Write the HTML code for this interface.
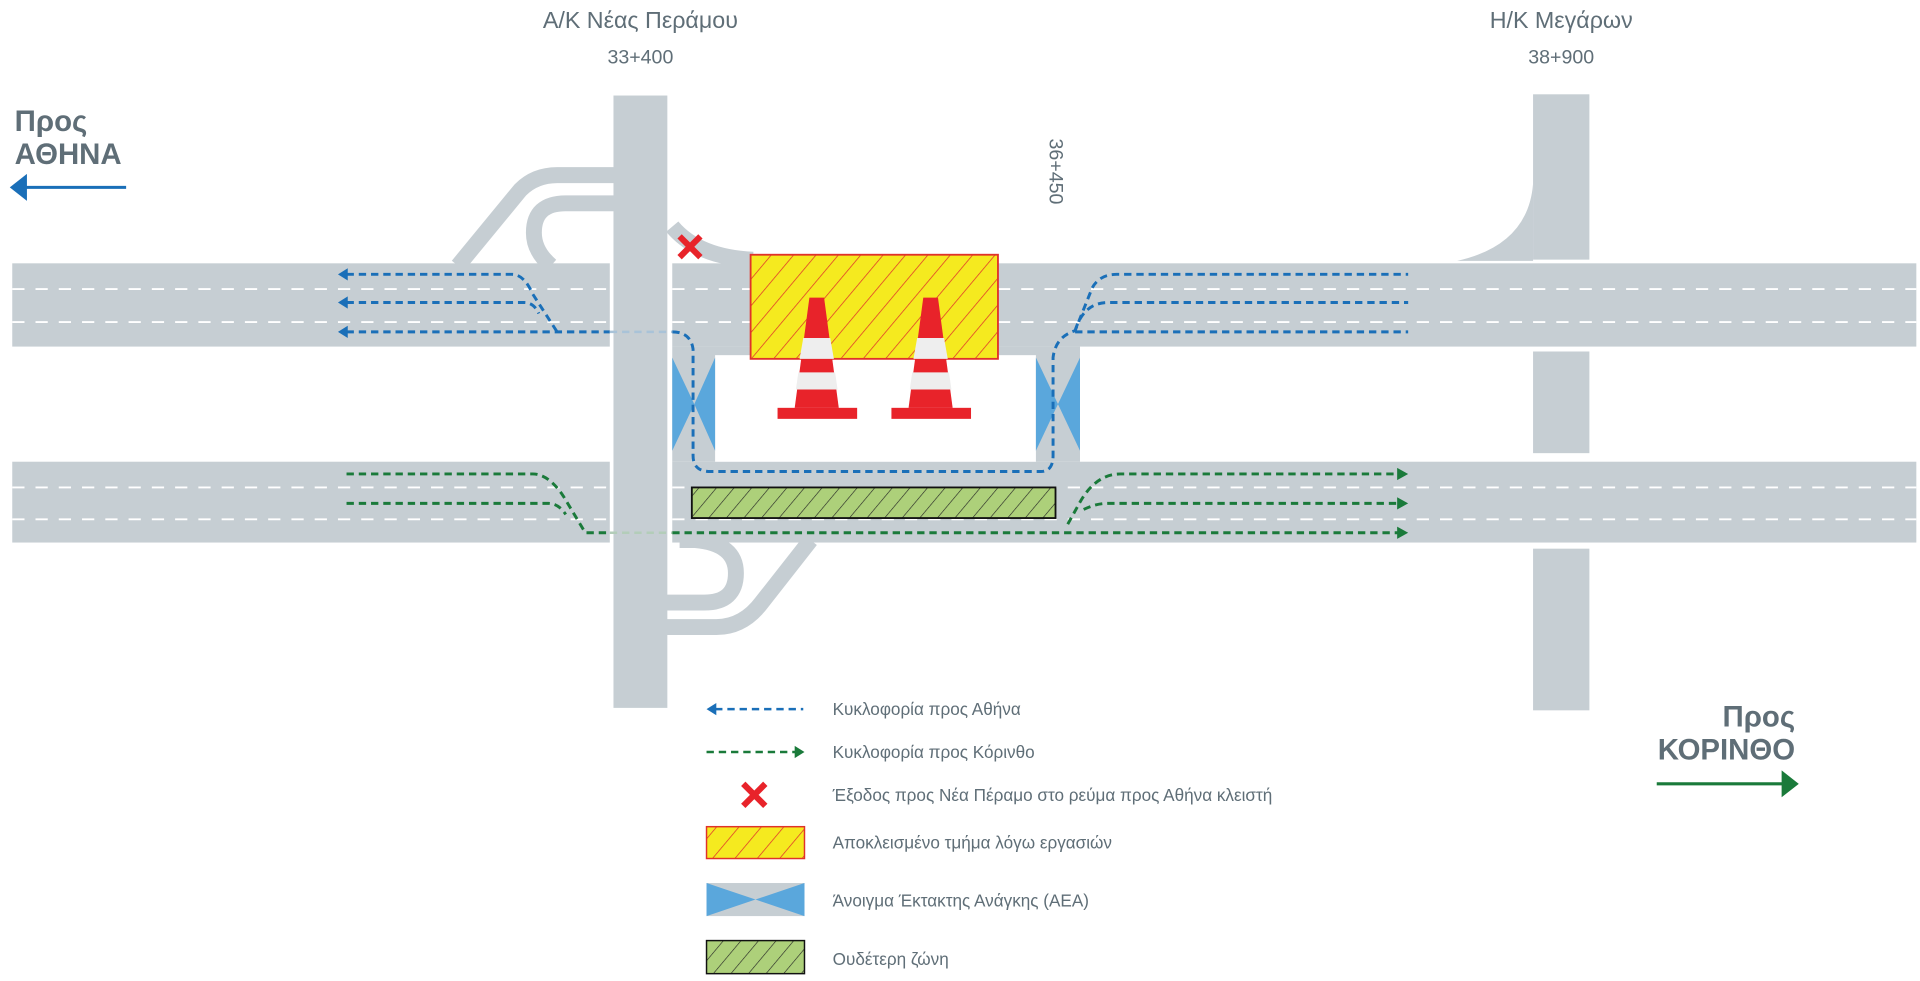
<!DOCTYPE html>
<html><head><meta charset="utf-8"><style>
html,body{margin:0;padding:0;background:#fff;width:1920px;height:981px;overflow:hidden}
svg{display:block}
text{font-family:"Liberation Sans","DejaVu Sans",sans-serif;fill:#5f6e77}
</style></head><body>
<svg width="1920" height="981" viewBox="0 0 1568 801" preserveAspectRatio="none">
<defs>
<pattern id="hy" patternUnits="userSpaceOnUse" width="14" height="14" patternTransform="rotate(40)"><rect width="14" height="14" fill="#f5ea1f"/><line x1="0" y1="0" x2="0" y2="14" stroke="#e0322a" stroke-width="1.2"/></pattern>
<pattern id="hg" patternUnits="userSpaceOnUse" width="11" height="11" patternTransform="rotate(40)"><rect width="11" height="11" fill="#add07a"/><line x1="0" y1="0" x2="0" y2="11" stroke="#222" stroke-width="1"/></pattern>
</defs>
<g fill="none" stroke="#c6ced3" stroke-width="13">
<path d="M374,217 L425,155 Q437,143 455,143 L505,143"/>
<path d="M505,166 L462,166 Q436,166 436,190 Q436,205 450,217"/>
<path d="M555,441 L568,441 Q601,444 601,468 Q601,492 575,492 L543,492"/>
<path d="M543,512 L585,512 Q607,512 622,492 L662,441"/>
<path d="M549,185 Q570,210 615,212"/>
</g>
<path d="M1190,213 Q1248,200 1252,150 L1252,213 Z" fill="#c6ced3"/>
<rect x="10" y="215" width="488" height="68" fill="#c6ced3"/>
<rect x="549" y="215" width="1016" height="68" fill="#c6ced3"/>
<rect x="10" y="377" width="488" height="66" fill="#c6ced3"/>
<rect x="549" y="377" width="1016" height="66" fill="#c6ced3"/>
<rect x="549" y="283" width="333" height="94" fill="#c6ced3"/>
<rect x="584" y="290" width="262" height="87" fill="#fff"/>
<polygon points="549,292 567,330 549,368" fill="#5aa7dc"/>
<polygon points="584,292 567,330 584,368" fill="#5aa7dc"/>
<polygon points="846,292 864,330 846,368" fill="#5aa7dc"/>
<polygon points="882,292 864,330 882,368" fill="#5aa7dc"/>
<rect x="501" y="78" width="44" height="500" fill="#c6ced3"/>
<rect x="1252" y="77" width="46" height="135" fill="#c6ced3"/>
<rect x="1252" y="287" width="46" height="83" fill="#c6ced3"/>
<rect x="1252" y="448" width="46" height="132" fill="#c6ced3"/>
<g stroke="#fff" stroke-width="1.5" stroke-dasharray="10 9">
<line x1="10" y1="236" x2="498" y2="236"/><line x1="10" y1="263" x2="498" y2="263"/>
<line x1="549" y1="236" x2="1565" y2="236"/><line x1="549" y1="263" x2="1565" y2="263"/>
<line x1="10" y1="398" x2="498" y2="398"/><line x1="10" y1="424" x2="498" y2="424"/>
<line x1="549" y1="398" x2="1565" y2="398"/><line x1="549" y1="424" x2="1565" y2="424"/>
</g>
<rect x="613" y="208" width="202" height="85" fill="url(#hy)" stroke="#e0322a" stroke-width="1.5"/>
<rect x="565" y="398" width="297" height="25" fill="url(#hg)" stroke="#111" stroke-width="1.5"/>
<g id="cone">
<polygon points="661,243 673,243 685,333 649,333" fill="#e8232a"/>
<polygon points="656,276 678,276 681,293 653,293" fill="#eee"/>
<polygon points="652,304 682,304 684,318 650,318" fill="#eee"/>
<rect x="635" y="333" width="65" height="9" fill="#e8232a"/>
</g>
<use href="#cone" x="93"/>
<g stroke="#e8232a" stroke-width="5"><line x1="555" y1="193" x2="572" y2="210"/><line x1="572" y1="193" x2="555" y2="210"/></g>
<g fill="none" stroke="#1a6fb8" stroke-width="2.4" stroke-dasharray="6 4">
<path d="M283,224 L418,224 Q428,224 435,240 L455,271"/>
<path d="M283,247 L428,247 Q436,247 440,256"/>
<path d="M283,271 L498,271"/>
<path d="M549,271 Q564,271 566,285 L566,372 Q566,385 580,385 L850,385 Q860,385 860,372 L860,292 Q862,275 878,270 L892,235 Q898,224 912,224 L1150,224"/>
<path d="M878,270 Q885,247 905,247 L1150,247"/>
<path d="M878,271 L1150,271"/>
</g>
<line x1="498" y1="271" x2="549" y2="271" stroke="#a9c3d8" stroke-width="2" stroke-dasharray="6 4"/>
<g fill="#1a6fb8"><polygon points="276,224 284,219 284,229"/><polygon points="276,247 284,242 284,252"/><polygon points="276,271 284,266 284,276"/></g>
<g fill="none" stroke="#1a7a3a" stroke-width="2.4" stroke-dasharray="6 4">
<path d="M283,387 L435,387 Q448,387 460,405 L478,435 L498,435"/>
<path d="M283,411 L448,411 Q456,411 462,420"/>
<path d="M549,435 L1142,435"/>
<path d="M872,428 L882,410 Q895,387 915,387 L1142,387"/>
<path d="M885,416 Q895,411 905,411 L1142,411"/>
</g>
<line x1="498" y1="435" x2="549" y2="435" stroke="#b3cdb9" stroke-width="2" stroke-dasharray="6 4"/>
<g fill="#1a7a3a"><polygon points="1150,387 1141,382 1141,392"/><polygon points="1150,411 1141,406 1141,416"/><polygon points="1150,435 1141,430 1141,440"/></g>
<text x="523" y="23" font-size="19" text-anchor="middle">Α/Κ Νέας Περάμου</text>
<text x="523" y="52" font-size="16" text-anchor="middle">33+400</text>
<text x="1275" y="23" font-size="19" text-anchor="middle">Η/Κ Μεγάρων</text>
<text x="1275" y="52" font-size="16" text-anchor="middle">38+900</text>
<text x="0" y="0" font-size="16" text-anchor="middle" transform="translate(857,140) rotate(90)">36+450</text>
<text x="12" y="107" font-size="24" font-weight="bold">Προς</text>
<text x="12" y="134" font-size="24" font-weight="bold">ΑΘΗΝΑ</text>
<line x1="20" y1="153" x2="103" y2="153" stroke="#1a6fb8" stroke-width="2.5"/>
<polygon points="8,153 22,142 22,164" fill="#1a6fb8"/>
<text x="1466" y="593" font-size="24" font-weight="bold" text-anchor="end">Προς</text>
<text x="1466" y="620" font-size="24" font-weight="bold" text-anchor="end">ΚΟΡΙΝΘΟ</text>
<line x1="1353" y1="640" x2="1456" y2="640" stroke="#1a7a3a" stroke-width="2.5"/>
<polygon points="1469,640 1455,629 1455,651" fill="#1a7a3a"/>
<line x1="584" y1="579" x2="656" y2="579" stroke="#1a6fb8" stroke-width="2" stroke-dasharray="6 4"/>
<polygon points="577,579 585,574 585,584" fill="#1a6fb8"/>
<line x1="577" y1="614" x2="650" y2="614" stroke="#1a7a3a" stroke-width="2" stroke-dasharray="6 4"/>
<polygon points="657,614 649,609 649,619" fill="#1a7a3a"/>
<g stroke="#e8232a" stroke-width="5"><line x1="607" y1="640" x2="625" y2="658"/><line x1="625" y1="640" x2="607" y2="658"/></g>
<rect x="577" y="675" width="80" height="26" fill="url(#hy)" stroke="#e0322a" stroke-width="1.2"/>
<rect x="577" y="721" width="80" height="27" fill="#c6ced3"/>
<polygon points="577,721 617,734.5 577,748" fill="#5aa7dc"/>
<polygon points="657,721 617,734.5 657,748" fill="#5aa7dc"/>
<rect x="577" y="768" width="80" height="27" fill="url(#hg)" stroke="#111" stroke-width="1.2"/>
<g font-size="14">
<text x="680" y="584">Κυκλοφορία προς Αθήνα</text>
<text x="680" y="619">Κυκλοφορία προς Κόρινθο</text>
<text x="680" y="654">Έξοδος προς Νέα Πέραμο στο ρεύμα προς Αθήνα κλειστή</text>
<text x="680" y="693">Αποκλεισμένο τμήμα λόγω εργασιών</text>
<text x="680" y="740">Άνοιγμα Έκτακτης Ανάγκης (ΑΕΑ)</text>
<text x="680" y="788">Ουδέτερη ζώνη</text>
</g>
</svg>
</body></html>
